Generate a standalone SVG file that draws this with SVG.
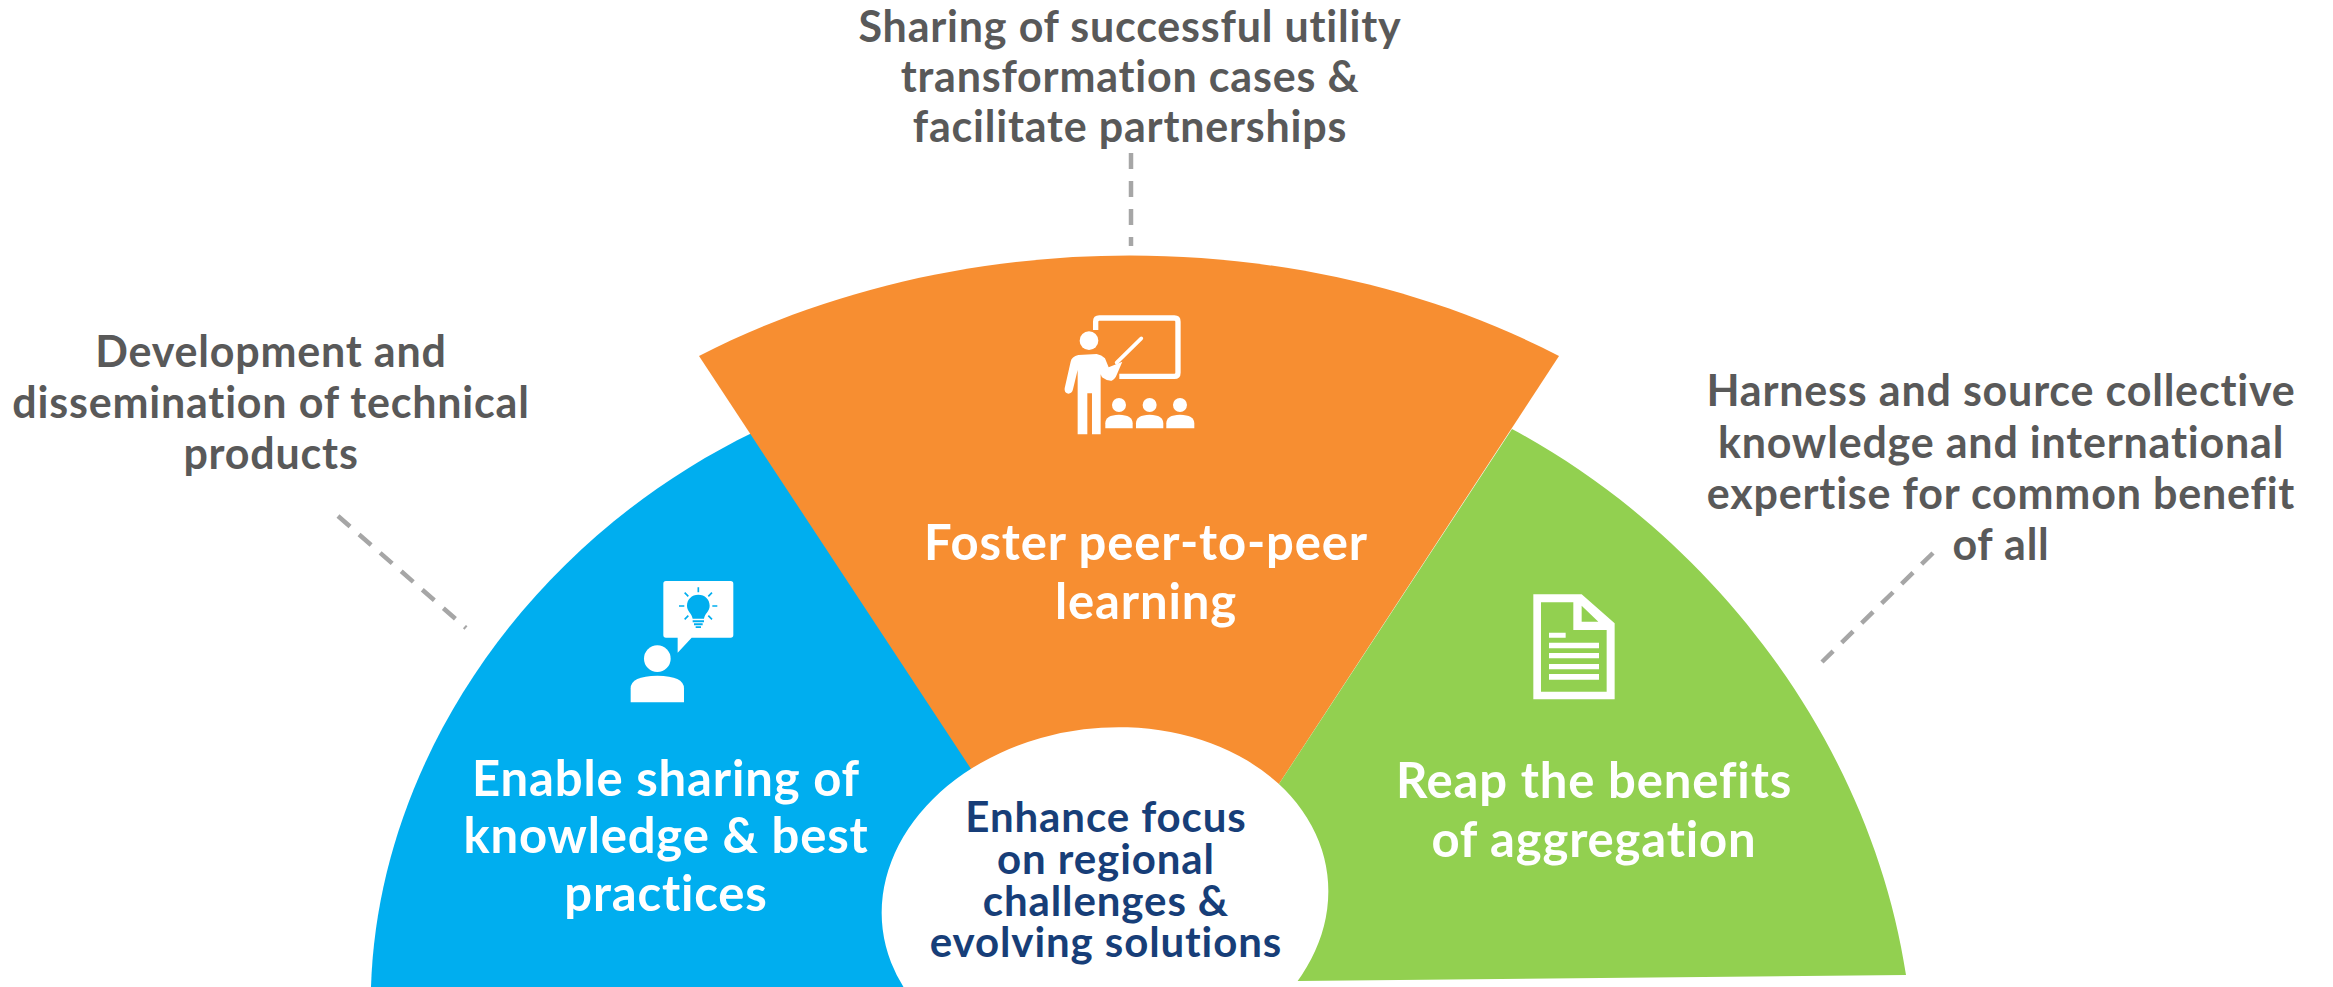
<svg xmlns="http://www.w3.org/2000/svg" width="2333" height="987" viewBox="0 0 2333 987">
<style>
text{font-family:"Lato","Noto Sans",sans-serif;font-weight:700;text-anchor:middle}
.g{fill:#595959;font-size:43px;letter-spacing:.8px}
.w{fill:#fff;font-size:49px;letter-spacing:.85px}
.n{fill:#173e78;font-size:42px;letter-spacing:.9px}
.i{fill:#fff}
.c{fill:none;stroke:#a6a6a6;stroke-width:4.5;stroke-dasharray:16 12}
</style>
<rect width="2333" height="987" fill="#fff"/>
<g id="connectors">
<path class="c" d="M1131 153V246"/>
<path class="c" d="M338 516L466 628"/>
<path class="c" d="M1933 553L1822 662"/>
</g>
<g id="node-blue">
<path fill="#00aeef" d="M371 987C378 760 530 540 754 432L975 765L1000 987Z"/>
<text class="w" x="666" y="796">Enable sharing of</text>
<text class="w" x="666" y="853">knowledge &amp; best</text>
<text class="w" x="666" y="911">practices</text>
<g transform="translate(600 560) scale(.3333)">
<path class="i" d="M198 63H392Q400 63 400 71V225Q400 233 392 233H275L233 278V233H198Q190 233 190 225V71Q190 63 198 63Z"/>
<circle class="i" cx="172" cy="296" r="40"/>
<path class="i" d="M92 427V385Q92 348 172 347Q252 348 252 385V427Z"/>
<path fill="#00aeef" d="M295 104C315 104 329 118 329 137C329 155 314 160 312 176H278C276 160 261 155 261 137C261 118 275 104 295 104ZM278 181H312V187H278ZM282 190H308V196H282ZM287 199H303V204H287Z"/>
<path fill="none" stroke="#00aeef" stroke-width="5" d="M295 82V97M254 98L265 109M336 98L325 109M237 138H253M337 138H352M254 178L265 167M336 178L325 167"/>
</g>
</g>
<g id="node-orange">
<path fill="#f78e31" d="M699 356C960 222 1300 222 1559 356L1275 790L975 775Z"/>
<text class="w" x="1146" y="560">Foster peer-to-peer</text>
<text class="w" x="1146" y="619">learning</text>
<g transform="translate(950 280) scale(.3333)">
<path fill="none" stroke="#fff" stroke-width="16" d="M437 150V125Q437 114 448 114H673Q684 114 684 125V278Q684 289 673 289H508"/>
<circle cx="417" cy="182" r="33" fill="#f78e31"/>
<circle class="i" cx="417" cy="182" r="28"/>
<path class="i" d="M385 225Q365 230 362 245L344 325Q342 340 355 341Q366 341 369 328L383 270V463H412V340H426V463H452V283L456 292Q470 303 485 302Q495 298 500 285L517 245L476 262L465 235Q455 225 440 222Z"/>
<path fill="none" stroke="#fff" stroke-width="11" stroke-linecap="round" d="M574 175L500 248"/>
<path id="seat" class="i" d="M466 445V430Q466 405 507 404Q548 405 548 430V445Z"/>
<circle class="i" cx="507" cy="375" r="21"/>
<path class="i" d="M558 445V430Q558 405 599 404Q640 405 640 430V445Z"/>
<circle class="i" cx="599" cy="375" r="21"/>
<path class="i" d="M649 445V430Q649 405 690 404Q733 405 733 430V445Z"/>
<circle class="i" cx="690" cy="375" r="21"/>
</g>
</g>
<g id="node-green">
<path fill="#92d050" d="M1512 429C1710 535 1870 740 1906 975L1297 981L1200 800L1275 790Z"/>
<text class="w" x="1594" y="798">Reap the benefits</text>
<text class="w" x="1594" y="857">of aggregation</text>
<g transform="translate(1500 570) scale(.3333)">
<path class="i" fill-rule="evenodd" d="M100 73H245L344 160V388H100ZM123 97V365H320V180H220V97ZM245 107V155H295Z"/>
<path class="i" d="M147 188H197V203H147ZM147 218H297V235H147ZM147 249H297V265H147ZM147 282H297V298H147ZM147 312H297V329H147Z"/>
</g>
</g>
<g id="node-center">
<ellipse cx="1105" cy="902" rx="224" ry="174" fill="#fff" transform="rotate(-7 1105 902)"/>
<text class="n" x="1106" y="832">Enhance focus</text>
<text class="n" x="1106" y="874">on regional</text>
<text class="n" x="1106" y="916">challenges &amp;</text>
<text class="n" x="1106" y="957">evolving solutions</text>
</g>
<g id="label-top">
<text class="g" x="1130" y="42">Sharing of successful utility</text>
<text class="g" x="1130" y="92">transformation cases &amp;</text>
<text class="g" x="1130" y="142">facilitate partnerships</text>
</g>
<g id="label-left">
<text class="g" x="271" y="367">Development and</text>
<text class="g" x="271" y="418">dissemination of technical</text>
<text class="g" x="271" y="469">products</text>
</g>
<g id="label-right">
<text class="g" x="2001" y="406">Harness and source collective</text>
<text class="g" x="2001" y="458">knowledge and international</text>
<text class="g" x="2001" y="509">expertise for common benefit</text>
<text class="g" x="2001" y="560">of all</text>
</g>
</svg>
